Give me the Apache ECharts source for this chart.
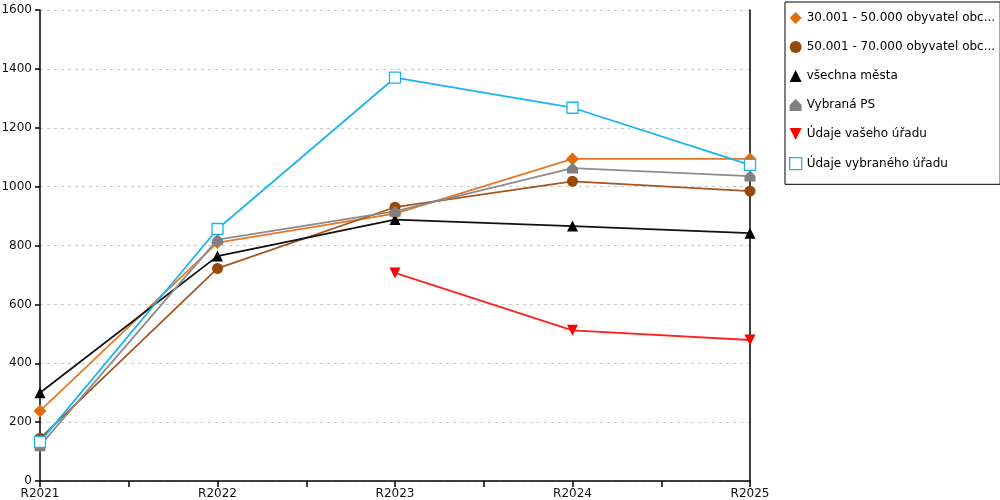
<!DOCTYPE html>
<html><head><meta charset="utf-8">
<script src="https://cdn.jsdelivr.net/npm/echarts@6/dist/echarts.min.js"></script>
<style>html,body{margin:0;padding:0;background:#fff}#c{width:1000px;height:500px}</style>
</head><body><div id="c"></div>
<script>
const categories = ["R2021","R2022","R2023","R2024","R2025"];
const yTicks = [0,200,400,600,800,1000,1200,1400,1600];
const names = ["30.001 - 50.000 obyvatel obc...","50.001 - 70.000 obyvatel obc...","všechna města","Vybraná PS","Údaje vašeho úřadu","Údaje vybraného úřadu"];
const s30to50 = [238, 810, 908, 1094, 1094];
const s50to70 = [145, 722, 930, 1018, 985];
const allCities = [300, 764, 888, 866, 842];
const selectedPS = [120, 820, 916, 1063, 1036];
const yourOffice = [null, null, 707, 512, 479];
const selectedOffice = [133, 856, 1370, 1268, 1074];

const house = 'path://M0,5 L5,0 L10,5 L10,10 L0,10 Z';
const downTri = 'path://M0,0 L10,0 L5,10 Z';
const defs = [
  {data:s30to50, color:'#E36C0A', line:'#E8772A', symbol:'diamond', size:13},
  {data:s50to70, color:'#984807', line:'#A5561E', symbol:'circle', size:11},
  {data:allCities, color:'#000000', line:'#111111', symbol:'triangle', size:11},
  {data:selectedPS, color:'#808080', line:'#8c8c8c', symbol:house, size:11},
  {data:yourOffice, color:'#FF0000', line:'#FF2020', symbol:downTri, size:11},
  {data:selectedOffice, color:'#1AB5EE', line:'#1AB5EE', symbol:'rect', size:11, hollow:true}
];
const series = defs.map((d,i)=>({
  name: names[i], type:'line',
  data: d.data.map((v,j)=>[j, v]),
  symbol: d.symbol, symbolSize: d.size,
  showAllSymbol:true, animation:false,
  lineStyle:{color:d.line, width:1.8},
  itemStyle: d.hollow ? {color:'#ffffff', borderColor:d.color, borderWidth:1.3, opacity:1} : {color:d.color, opacity:1},
  emphasis:{disabled:true},
  z: 2+i
}));
const chart = echarts.init(document.getElementById('c'), null, {renderer:'canvas'});
chart.setOption({
  animation:false,
  grid:{left:40, right:250, top:10, bottom:19, containLabel:false, outerBoundsMode:'none'},
  legend:{
    orient:'vertical', left:785, top:2,
    padding:[10,5,14,4], borderColor:'#000', borderWidth:1,
    itemGap:17, itemWidth:12, itemHeight:12,
    textStyle:{fontFamily:'DejaVu Sans', fontSize:12, color:'#000', padding:[0,0,0,0]},
    data: names.map((n,i)=>({name:n, icon: defs[i].symbol, itemStyle: defs[i].hollow?{color:'#fff', borderColor:defs[i].color, borderWidth:1.3}:{color:defs[i].color}}))
  },
  xAxis:{
    type:'value', min:0, max:4, interval:0.5,
    axisLine:{show:true, lineStyle:{color:'#000', width:1.5}},
    axisTick:{show:true, length:6, lineStyle:{color:'#000', width:1.5}},
    splitLine:{show:false},
    axisLabel:{fontFamily:'DejaVu Sans', fontSize:12, color:'#111', margin:7,
      formatter:v=> Number.isInteger(v) ? categories[v] : ''}
  },
  yAxis:[{
    type:'value', min:yTicks[0], max:yTicks[yTicks.length-1], interval:200,
    axisLine:{show:true, lineStyle:{color:'#000', width:1.5}},
    axisTick:{show:true, length:5, lineStyle:{color:'#000', width:1.5}},
    splitLine:{show:true, lineStyle:{color:'#c8c8c8', type:[3,4], width:1}},
    axisLabel:{fontFamily:'DejaVu Sans', fontSize:12, color:'#111', margin:8, formatter:v=>String(v)}
  },{
    type:'value', min:0, max:1600, interval:200, position:'right',
    axisLine:{show:true, lineStyle:{color:'#000', width:1.5}},
    axisTick:{show:false}, axisLabel:{show:false}, splitLine:{show:false}
  }],
  series: series
});
</script></body></html>
